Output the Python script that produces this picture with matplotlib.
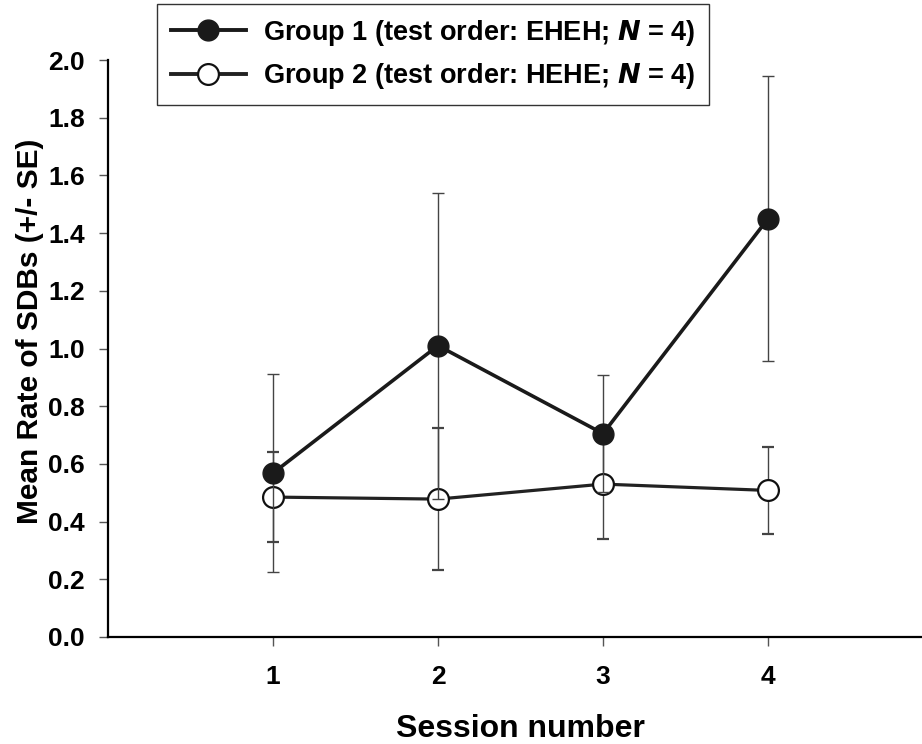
import numpy as np
import matplotlib
matplotlib.use("Agg")
import matplotlib.pyplot as plt
from matplotlib.lines import Line2D

# data
sessions = [1, 2, 3, 4]
group1_mean = [0.568, 1.01, 0.705, 1.45]
group1_se = [0.344, 0.53, 0.203, 0.495]
group2_mean = [0.485, 0.478, 0.530, 0.508]
group2_se = [0.155, 0.246, 0.19, 0.15]
yticks = [0.0, 0.2, 0.4, 0.6, 0.8, 1.0, 1.2, 1.4, 1.6, 1.8, 2.0]
labels = ['Group 1 (test order: EHEH; $\\mathbfit{N}$ = 4)',
          'Group 2 (test order: HEHE; $\\mathbfit{N}$ = 4)']

plt.rcParams['font.family'] = ['Liberation Sans', 'DejaVu Sans']
plt.rcParams['font.weight'] = 'bold'

fig = plt.figure(figsize=(9.22, 7.44), dpi=100)
ax = fig.add_axes([108/922, 1 - 637/744, 825/922, 577/744])

ax.errorbar(sessions, group2_mean, yerr=group2_se, color='#222222', lw=2.3,
            marker='o', ms=15, mfc='white', mec='#111111', mew=1.6,
            ecolor='#444444', elinewidth=1.0, capsize=4.5, capthick=1.0, zorder=2)
ax.errorbar(sessions, group1_mean, yerr=group1_se, color='#1a1a1a', lw=2.6,
            marker='o', ms=15, mfc='#1a1a1a', mec='#1a1a1a',
            ecolor='#444444', elinewidth=1.0, capsize=4.5, capthick=1.0, zorder=3)

ax.set_xlim(0, 5)
ax.set_ylim(0, 2.0)
ax.set_xticks(sessions)
ax.set_yticks(yticks)
ax.set_yticklabels(['%.1f' % v for v in yticks])
ax.spines['top'].set_visible(False)
ax.spines['right'].set_visible(False)
ax.spines['left'].set_linewidth(1.6)
ax.spines['bottom'].set_linewidth(1.6)
ax.tick_params(axis='both', direction='out', length=6.5, width=1.0,
               labelsize=19, color='#555555')
ax.tick_params(axis='y', pad=10)
ax.tick_params(axis='x', pad=14)

ax.set_xlabel('Session number', fontsize=23, fontweight='bold', labelpad=18)
ax.set_ylabel('Mean Rate of SDBs (+/- SE)', fontsize=21.5, fontweight='bold')
ax.yaxis.set_label_coords(-0.078, 0.529)

h1 = Line2D([], [], color='#1a1a1a', lw=2.8, marker='o', ms=15, mfc='#1a1a1a', mec='#1a1a1a')
h2 = Line2D([], [], color='#222222', lw=2.8, marker='o', ms=15, mfc='white', mec='#111111', mew=1.6)
leg = fig.legend([h1, h2], labels, loc='upper left', bbox_to_anchor=(157/922, 1 - 4/744),
                 fontsize=19.5, frameon=True, fancybox=False, edgecolor='black',
                 handlelength=2.8, borderpad=0.5, labelspacing=0.5, handletextpad=0.6,
                 borderaxespad=0)
leg.get_frame().set_linewidth(1.0)
for t in leg.get_texts():
    t.set_fontweight('bold')

fig.savefig('out.png', dpi=100)
